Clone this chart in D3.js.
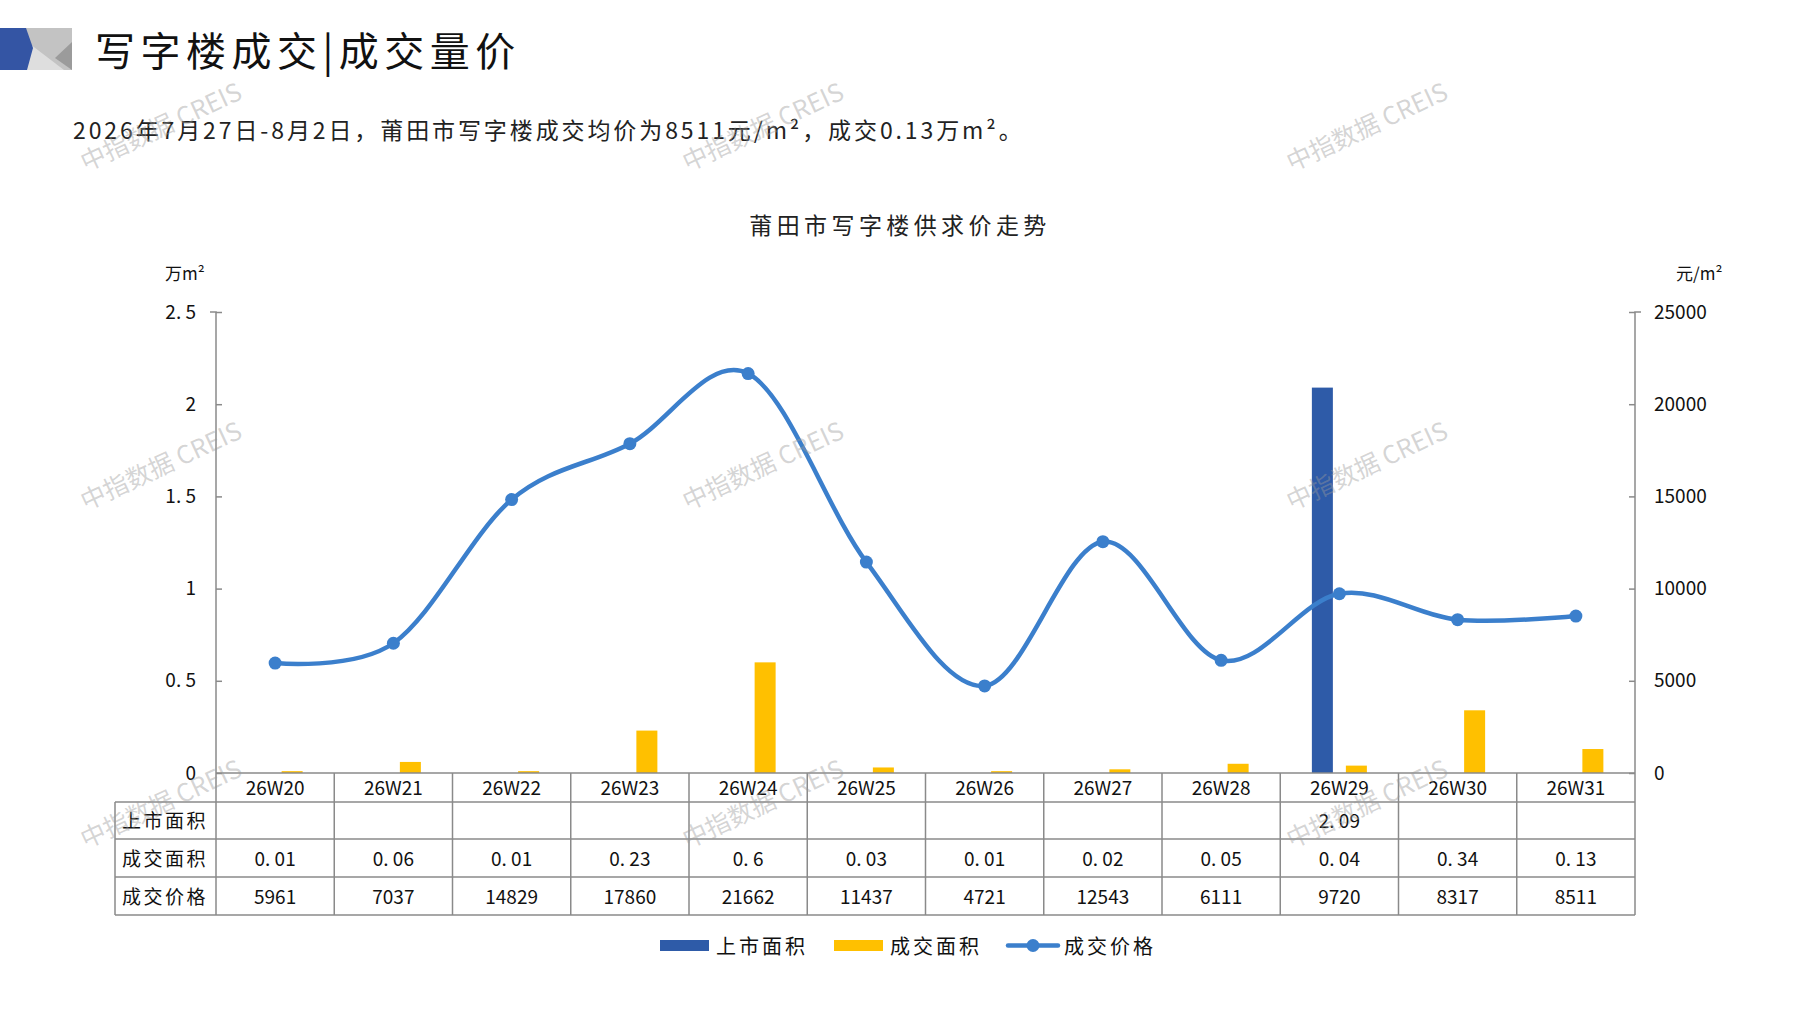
<!DOCTYPE html>
<html><head><meta charset="utf-8">
<script src="https://cdn.jsdelivr.net/npm/d3@7/dist/d3.min.js"></script>
<style>
html,body{margin:0;padding:0;background:#fff;}
svg{display:block;}
text{font-family:"Noto Sans CJK SC","Noto Sans",sans-serif;}
</style>
</head><body>
<svg id="chart" width="1797" height="1010"></svg>
<script>
const categories = ["26W20","26W21","26W22","26W23","26W24","26W25","26W26","26W27","26W28","26W29","26W30","26W31"];
const supplyArea = [null,null,null,null,null,null,null,null,null,2.09,null,null];
const dealArea = [0.01,0.06,0.01,0.23,0.6,0.03,0.01,0.02,0.05,0.04,0.34,0.13];
const dealPrice = [5961,7037,14829,17860,21662,11437,4721,12543,6111,9720,8317,8511];
const leftTicks = [0,0.5,1,1.5,2,2.5];
const rightTicks = [0,5000,10000,15000,20000,25000];
const seriesNames = ["上市面积","成交面积","成交价格"];
const colors = {supply:"#2E5BA8", deal:"#FFC000", price:"#3B7FCC"};

const svg = d3.select("#chart");
svg.append("rect").attr("width",1797).attr("height",1010).attr("fill","#fff");

// header decoration
const hd = svg.append("g");
hd.append("rect").attr("x",26).attr("y",28).attr("width",46).attr("height",42).attr("fill","#c3c3c3");
hd.append("polygon").attr("points","30,44 26,70 64,70").attr("fill","#dedede");
hd.append("polygon").attr("points","72,42 55,58 72,70").attr("fill","#9b9b9b");
hd.append("polygon").attr("points","0,28 26,28 33,48 27,70 0,70").attr("fill","#3455a4");

svg.append("text").attr("x",95).attr("y",66).attr("font-size",40).attr("fill","#111")
  .attr("letter-spacing",5.5).text("写字楼成交|成交量价");

svg.append("text").attr("x",73).attr("y",139).attr("font-size",23).attr("fill","#222")
  .attr("letter-spacing",2.9).text("2026年7月27日-8月2日，莆田市写字楼成交均价为8511元/m²，成交0.13万m²。");

svg.append("text").attr("x",900).attr("y",234).attr("font-size",23).attr("fill","#222")
  .attr("text-anchor","middle").attr("letter-spacing",4.4).text("莆田市写字楼供求价走势");

// scales
const x0 = 216, x1 = 1635, yTop = 312, yZero = 773;
const x = d3.scaleBand().domain(categories).range([x0,x1]).padding(0);
const yL = d3.scaleLinear().domain([0,2.5]).range([yZero,yTop]);
const yR = d3.scaleLinear().domain([0,25000]).range([yZero,yTop]);
const fmt = v => String(v).replace(".", ". ");

// axes
const axL = svg.append("g").attr("transform",`translate(${x0},0)`)
  .call(d3.axisLeft(yL).tickValues(leftTicks).tickSize(-6).tickPadding(20).tickFormat(fmt));
const axR = svg.append("g").attr("transform",`translate(${x1},0)`)
  .call(d3.axisRight(yR).tickValues(rightTicks).tickSize(-6).tickPadding(19).tickFormat(d3.format("d")));
[axL,axR].forEach(a=>{
  a.selectAll("path").attr("stroke","#8a8a8a").attr("stroke-width",1.5);
  a.selectAll("line").attr("stroke","#8a8a8a").attr("stroke-width",1.5);
  a.selectAll("text").attr("font-size",19).attr("fill","#111").attr("font-family",'"Noto Sans CJK SC",sans-serif');
});
axL.select(".domain").attr("d",`M-6,${yTop}H0V${yZero}`);
axR.select(".domain").attr("d",`M6,${yTop}H0V${yZero}`);

svg.append("text").attr("x",165).attr("y",280).attr("font-size",17).attr("fill","#111").text("万m²");
svg.append("text").attr("x",1676).attr("y",280).attr("font-size",17).attr("fill","#111").text("元/m²");

// bars
const bw = 21, off = 17;
svg.append("g").selectAll("rect").data(categories.map((c,i)=>({c,v:supplyArea[i]})).filter(d=>d.v!=null))
  .join("rect").attr("x",d=>x(d.c)+x.bandwidth()/2-off-bw/2).attr("y",d=>yL(d.v))
  .attr("width",bw).attr("height",d=>yZero-yL(d.v)).attr("fill",colors.supply);
svg.append("g").selectAll("rect").data(categories.map((c,i)=>({c,v:dealArea[i]})))
  .join("rect").attr("x",d=>x(d.c)+x.bandwidth()/2+off-bw/2).attr("y",d=>yL(d.v))
  .attr("width",bw).attr("height",d=>yZero-yL(d.v)).attr("fill",colors.deal);

// line
const pts = categories.map((c,i)=>[x(c)+x.bandwidth()/2, yR(dealPrice[i])]);
svg.append("path").attr("d",d3.line().curve(d3.curveCardinal.tension(0))(pts))
  .attr("fill","none").attr("stroke",colors.price).attr("stroke-width",4.5);
svg.append("g").selectAll("circle").data(pts).join("circle")
  .attr("cx",d=>d[0]).attr("cy",d=>d[1]).attr("r",6.5).attr("fill",colors.price);

// table
const rowY = [773,802,839,877,915];
const tl = 115, gridC = "#8a8a8a";
const tg = svg.append("g").attr("stroke",gridC).attr("stroke-width",1.5);
tg.append("line").attr("x1",x0).attr("x2",x1).attr("y1",rowY[0]).attr("y2",rowY[0]);
[1,2,3,4].forEach(r=>tg.append("line").attr("x1",tl).attr("x2",x1).attr("y1",rowY[r]).attr("y2",rowY[r]));
tg.append("line").attr("x1",tl).attr("x2",tl).attr("y1",rowY[1]).attr("y2",rowY[4]);
categories.forEach((c,i)=>tg.append("line").attr("x1",x(c)).attr("x2",x(c)).attr("y1",rowY[0]).attr("y2",rowY[4]));
tg.append("line").attr("x1",x1).attr("x2",x1).attr("y1",rowY[0]).attr("y2",rowY[4]);

const cellText = (tx,ty,t,anchor="middle") => svg.append("text").attr("x",tx).attr("y",ty)
  .attr("font-size",19).attr("fill","#111").attr("text-anchor",anchor).attr("dominant-baseline","central").text(t);
categories.forEach((c,i)=>{
  const cx = x(c)+x.bandwidth()/2;
  cellText(cx,(rowY[0]+rowY[1])/2-1,c);
  if(supplyArea[i]!=null) cellText(cx,(rowY[1]+rowY[2])/2-1,fmt(supplyArea[i]));
  cellText(cx,(rowY[2]+rowY[3])/2-1,fmt(dealArea[i]));
  cellText(cx,(rowY[3]+rowY[4])/2-1,String(dealPrice[i]));
});
[["上市面积",1],["成交面积",2],["成交价格",3]].forEach(([t,r])=>{
  cellText(122,(rowY[r]+rowY[r+1])/2-1,t,"start").attr("letter-spacing",2.5);
});

// legend
const lg = svg.append("g");
lg.append("rect").attr("x",660).attr("y",940).attr("width",49).attr("height",11).attr("fill",colors.supply);
lg.append("rect").attr("x",834).attr("y",940).attr("width",49).attr("height",11).attr("fill",colors.deal);
lg.append("line").attr("x1",1008).attr("x2",1058).attr("y1",945.5).attr("y2",945.5).attr("stroke",colors.price).attr("stroke-width",4.5).attr("stroke-linecap","round");
lg.append("circle").attr("cx",1033).attr("cy",945.5).attr("r",6.5).attr("fill",colors.price);
[[716,seriesNames[0]],[890,seriesNames[1]],[1064,seriesNames[2]]].forEach(([lx,t])=>{
  lg.append("text").attr("x",lx).attr("y",945).attr("font-size",20).attr("fill","#111")
    .attr("dominant-baseline","central").attr("letter-spacing",3).text(t);
});

// watermarks
const wmX = [160,762,1366], wmY = [125,464,802];
const wg = svg.append("g").attr("pointer-events","none");
wmY.forEach(wy=>wmX.forEach(wx=>{
  wg.append("text").attr("transform",`translate(${wx},${wy}) rotate(-25)`)
    .attr("text-anchor","middle").attr("dominant-baseline","central")
    .attr("font-size",25).attr("fill","#9a9a9a").attr("fill-opacity",0.42)
    .attr("font-family",'"Noto Sans CJK SC","Liberation Sans",sans-serif').text("中指数据 CREIS");
}));
</script>
</body></html>
